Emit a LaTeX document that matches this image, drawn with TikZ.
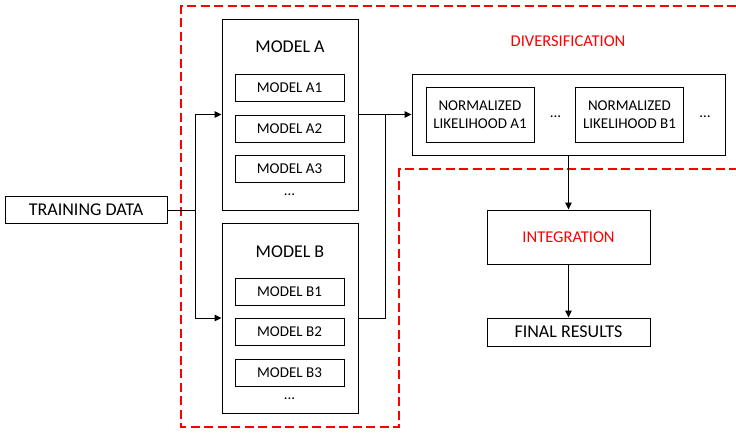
\documentclass[tikz,border=0pt]{standalone}
\usepackage{fontspec}
\setmainfont{Carlito}
\usetikzlibrary{arrows.meta}

\tikzset{
    box/.style={draw, line width=1pt, inner sep=0pt, align=center},
    bigfont/.style={font=\fontsize{18}{20}\selectfont},
    smallfont/.style={font=\fontsize{15}{18}\selectfont},
    modelbox/.style={box, minimum width=136pt},
    submodel/.style={box, smallfont, minimum width=109pt, minimum height=27pt},
    likelihood/.style={box, smallfont, minimum width=108pt, minimum height=55pt},
    stage/.style={box, bigfont, minimum width=163pt},
    redlabel/.style={text=red, font=\fontsize{16.5}{20}\selectfont},
    flow/.style={line width=1pt, -{Triangle[length=7pt,width=6.5pt]}},
    link/.style={line width=1pt},
    region/.style={draw=red, line width=1.2pt, dash pattern=on 9pt off 4.5pt}
}

\begin{document}
\begin{tikzpicture}[x=1pt, y=-1pt]
    \useasboundingbox (0,0) rectangle (736,432);

    % diversification region
    \draw[region] (736,6) -- (181,6) -- (181,427) -- (399,427) -- (399,169) -- (736,169);
    \node[redlabel] (divlabel) at (568,41) {DIVERSIFICATION};

    % input
    \node[box, bigfont, minimum width=162pt, minimum height=27pt] (train) at (86,210) {TRAINING DATA};

    % model A
    \node[modelbox, minimum height=191pt] (modelA) at (290,114.5) {};
    \node[bigfont] (titleA) at (290,47) {MODEL A};
    \node[submodel] (modelA1) at (289.5,87.5) {MODEL A1};
    \node[submodel] (modelA2) at (289.5,128.5) {MODEL A2};
    \node[submodel] (modelA3) at (289.5,169) {MODEL A3};
    \node[smallfont] (dotsA) at (289.5,195) {...};

    % model B
    \node[modelbox, minimum height=190pt] (modelB) at (290,318) {};
    \node[bigfont] (titleB) at (290,252) {MODEL B};
    \node[submodel] (modelB1) at (289.5,291.5) {MODEL B1};
    \node[submodel] (modelB2) at (289.5,332) {MODEL B2};
    \node[submodel] (modelB3) at (289.5,372.5) {MODEL B3};
    \node[smallfont] (dotsB) at (289.5,399) {...};

    % normalized likelihoods
    \node[box, minimum width=313pt, minimum height=81pt] (div) at (568.5,114.5) {};
    \node[likelihood] (likeA1) at (480,114.5) {NORMALIZED\\LIKELIHOOD A1};
    \node[likelihood] (likeB1) at (629.5,114.5) {NORMALIZED\\LIKELIHOOD B1};
    \node[smallfont] (dotsAB) at (555.5,117) {...};
    \node[smallfont] (dotsEnd) at (705,117) {...};

    % integration and output
    \node[stage, minimum height=54pt, text=red, font=\fontsize{16.5}{20}\selectfont] (integ) at (568.5,237) {INTEGRATION};
    \node[stage, minimum height=28pt] (final) at (568.5,332) {FINAL RESULTS};

    % connectors
    \coordinate (split) at (195,210);
    \coordinate (join) at (385,114.5);
    \draw[link] (train) -- (split);
    \draw[flow] (split) |- (modelA);
    \draw[flow] (split) |- (modelB);
    \draw[link] (modelA) -- (join);
    \draw[link] (modelB) -| (join);
    \draw[flow] (join) -- (div);
    \draw[flow] (div) -- (integ);
    \draw[flow] (integ) -- (final);
\end{tikzpicture}
\end{document}
